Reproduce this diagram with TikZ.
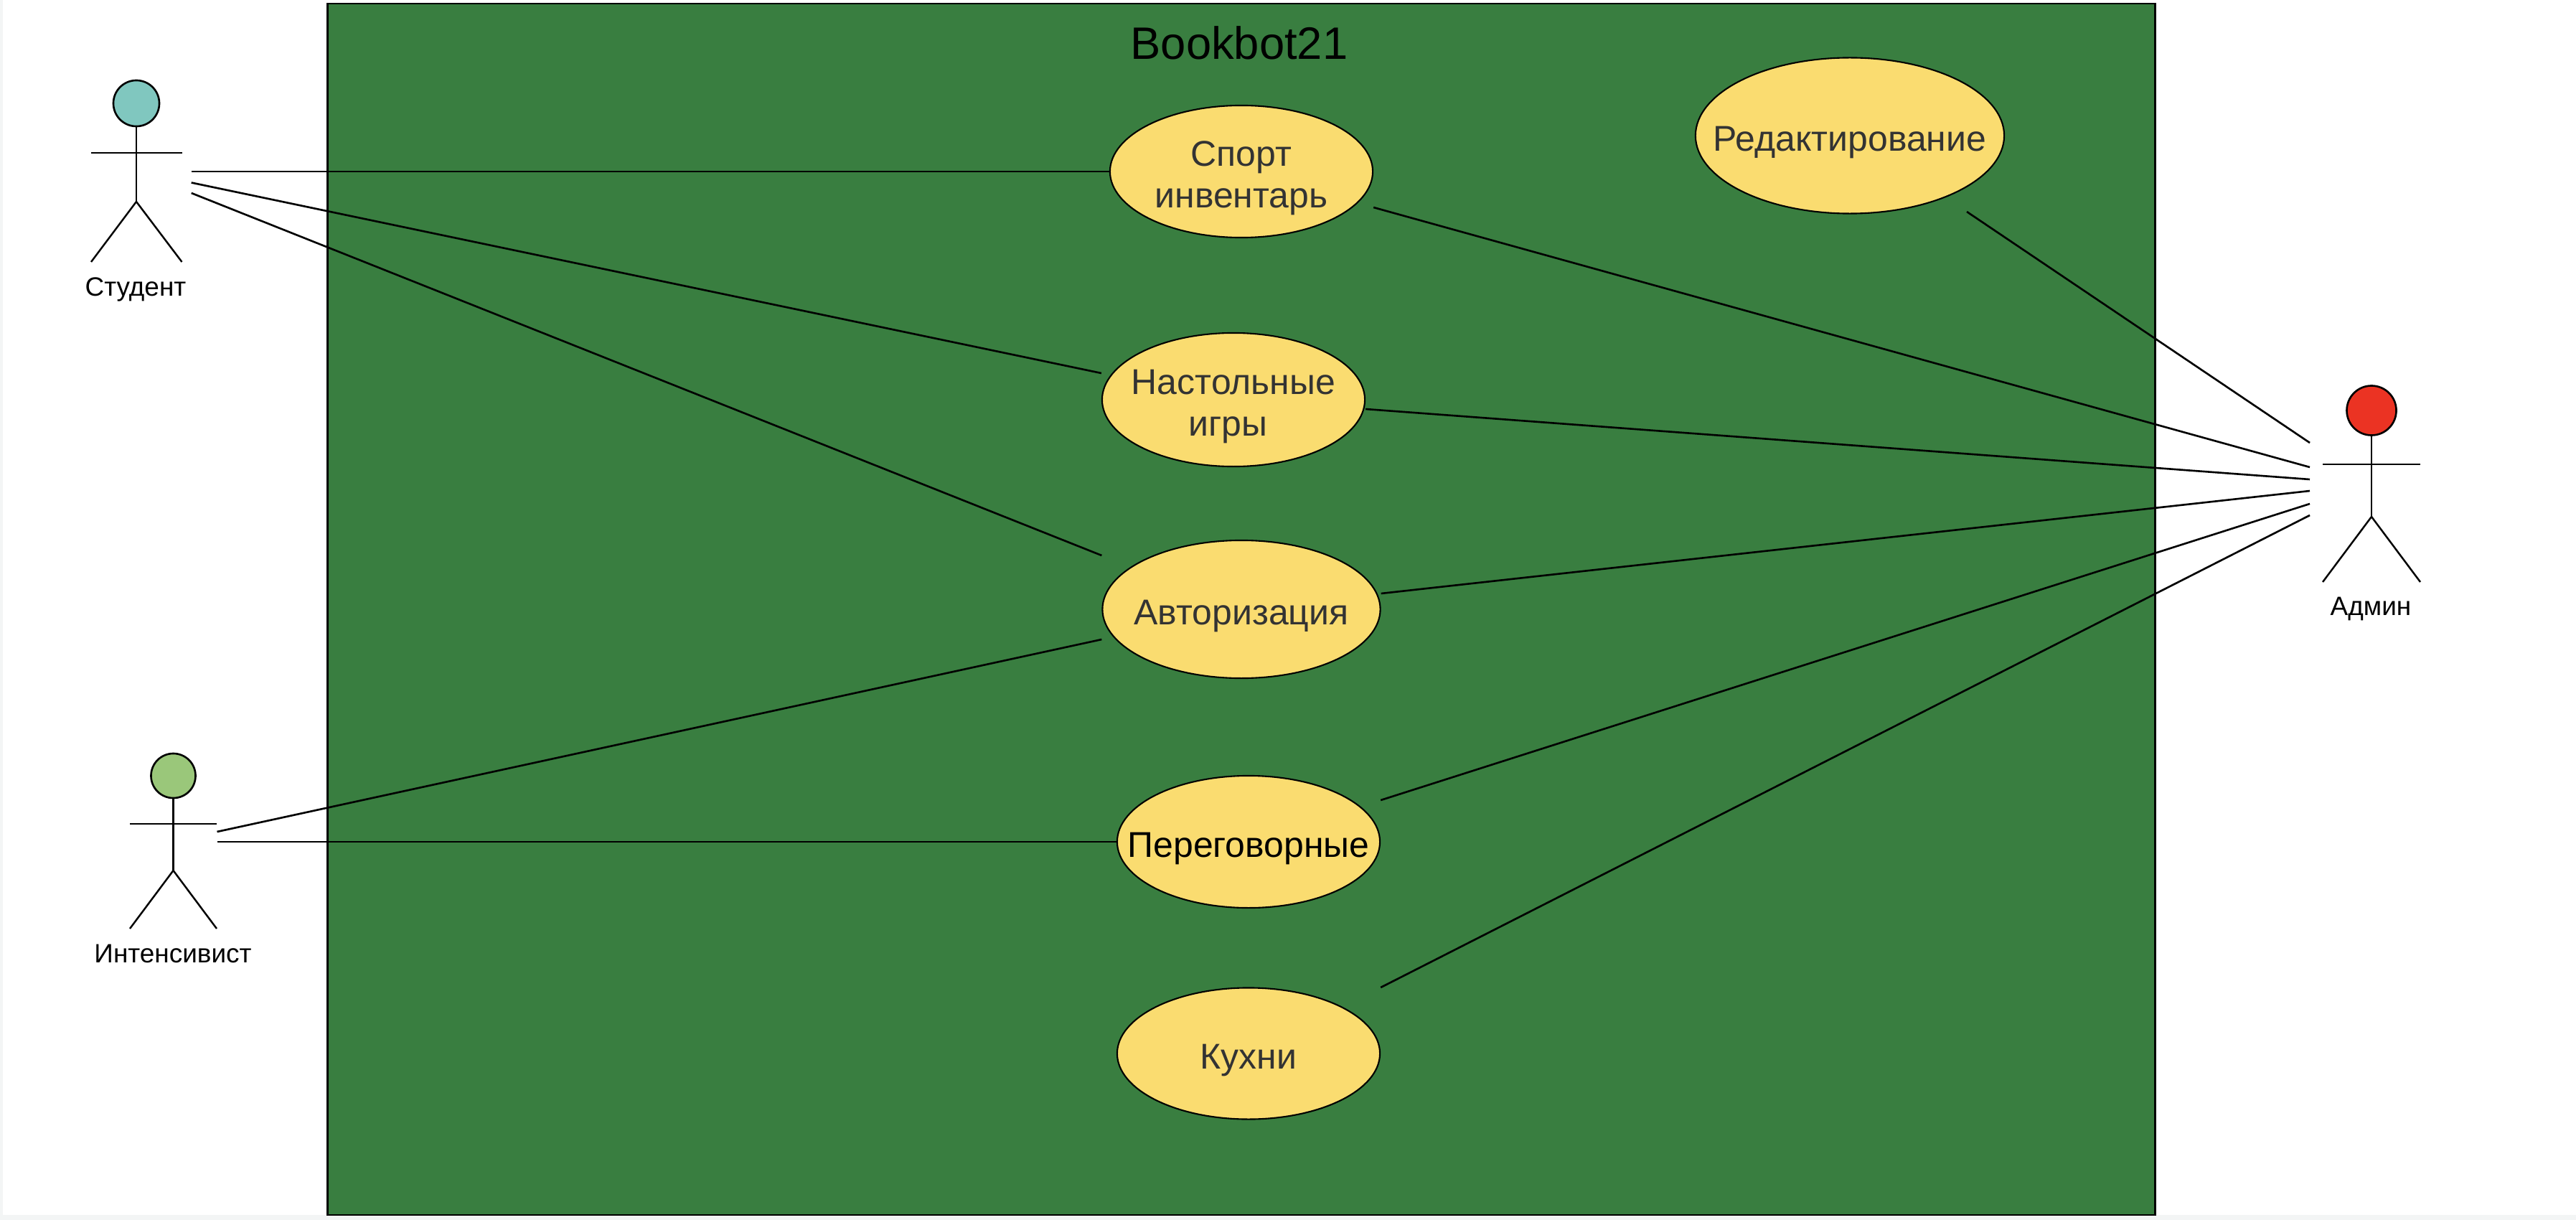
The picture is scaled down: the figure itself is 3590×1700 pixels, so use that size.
\documentclass[tikz,border=0pt]{standalone}
\usepackage{fontspec}
\setmainfont{Liberation Sans}
\usetikzlibrary{shapes.geometric}
\definecolor{boxgreen}{HTML}{397E40}
\definecolor{caseyellow}{HTML}{FADC70}
\definecolor{headteal}{HTML}{80C7BF}
\definecolor{headgreen}{HTML}{9AC77A}
\definecolor{headred}{HTML}{EB3323}
\definecolor{casetext}{HTML}{333333}
\definecolor{edgegray}{HTML}{F3F5F5}
\newcommand{\casestrut}{\rule{0pt}{0.54cm}}
\tikzset{
  usecase/.style={ellipse, draw=black, fill=caseyellow, line width=0.6pt, inner sep=-2cm,
    text=casetext, align=center, font=\fontsize{14.2}{16.4}\selectfont},
  actorhead/.style={circle, draw=black, line width=0.75pt, inner sep=0pt, minimum size=#1},
  actorlabel/.style={inner sep=0pt, font=\fontsize{10.5}{12}\selectfont},
  limb/.style={line width=0.7pt},
  assoc/.style={line width=0.75pt}
}
\begin{document}
\begin{tikzpicture}[x=0.01cm, y=-0.01cm]
\useasboundingbox (0,0) rectangle (3590,1700);
\fill[edgegray] (0,0) rectangle (3590,1700);
\fill[white] (4,0) rectangle (3590,1693);

% System
\node[draw=black, fill=boxgreen, line width=0.75pt, inner sep=0pt,
      minimum width=25.45cm, minimum height=16.87cm] (system) at (1730,849) {};
\node[inner sep=0pt, font=\fontsize{18}{20}\selectfont] (title) at (1727,60) {Bookbot21};

% Use cases
\node[usecase, minimum width=3.66cm, minimum height=1.84cm] (sport) at (1730,239) {\casestrut Спорт\\инвентарь};
\node[usecase, minimum width=3.66cm, minimum height=1.86cm] (nast) at (1719,557) {\casestrut Настольные\\игры\kern0.16cm};
\node[usecase, minimum width=3.87cm, minimum height=1.92cm] (avt) at (1730,849) {\casestrut Авторизация};
\node[usecase, minimum width=3.66cm, minimum height=1.84cm, text=black] (per) at (1740,1173) {\casestrut Переговорные};
\node[usecase, minimum width=3.66cm, minimum height=1.83cm] (kuh) at (1740,1468) {\casestrut Кухни};
\node[usecase, minimum width=4.30cm, minimum height=2.17cm] (red) at (2578,189) {\casestrut Редактирование};

% Student
\node[actorhead=0.64cm, fill=headteal] (stud) at (190,144) {};
\coordinate (studhip) at (190,281);
\coordinate (studarmL) at (127,213);
\coordinate (studarmR) at (253.5,213);
\coordinate (studfootL) at (127,365);
\coordinate (studfootR) at (253.5,365);
\draw[limb] (stud.south) -- (studhip);
\draw[limb] (studarmL) -- (studarmR);
\draw[limb] (studfootL) -- (studhip) -- (studfootR);
\node[actorlabel] (studlabel) at (189,403) {Студент};

% Intensive
\node[actorhead=0.62cm, fill=headgreen] (intens) at (241.5,1081) {};
\coordinate (intenship) at (241.5,1213);
\coordinate (intensarmL) at (181,1148);
\coordinate (intensarmR) at (302,1148);
\coordinate (intensfootL) at (181,1294);
\coordinate (intensfootR) at (302,1294);
\draw[limb] (intens.south) -- (intenship);
\draw[limb] (intensarmL) -- (intensarmR);
\draw[limb] (intensfootL) -- (intenship) -- (intensfootR);
\node[actorlabel] (intenslabel) at (241,1329) {Интенсивист};

% Admin
\node[actorhead=0.69cm, fill=headred] (admin) at (3305,572) {};
\coordinate (adminhip) at (3305,720);
\coordinate (adminarmL) at (3237,647);
\coordinate (adminarmR) at (3373,647);
\coordinate (adminfootL) at (3237,811);
\coordinate (adminfootR) at (3373,811);
\draw[limb] (admin.south) -- (adminhip);
\draw[limb] (adminarmL) -- (adminarmR);
\draw[limb] (adminfootL) -- (adminhip) -- (adminfootR);
\node[actorlabel] (adminlabel) at (3304,848) {Админ};

% Connections
\coordinate (studA) at (266.7,239);
\coordinate (studB) at (266.7,254.5);
\coordinate (studC) at (266.7,269);
\coordinate (intensA) at (302.5,1159);
\coordinate (intensB) at (302.5,1173);
\coordinate (adminA) at (3219,617);
\coordinate (adminB) at (3219,651);
\coordinate (adminC) at (3219,668);
\coordinate (adminD) at (3219,684);
\coordinate (adminE) at (3219,702);
\coordinate (adminF) at (3219,718);

\draw[assoc] (studA) -- (sport.west);
\draw[assoc] (studB) -- ([shift={(0,-37)}]nast.west);
\draw[assoc] (studC) -- ([shift={(0,-75)}]avt.west);

\draw[assoc] (intensA) -- ([shift={(0,42)}]avt.west);
\draw[assoc] (intensB) -- (per.west);

\draw[assoc] (adminA) -- ([shift={(163,106)}]red.center);
\draw[assoc] (adminB) -- ([shift={(0,50)}]sport.east);
\draw[assoc] (adminC) -- ([shift={(0,13)}]nast.east);
\draw[assoc] (adminD) -- ([shift={(0,-22)}]avt.east);
\draw[assoc] (adminE) -- ([shift={(0,-58)}]per.east);
\draw[assoc] (adminF) -- ([shift={(0,-92)}]kuh.east);

\end{tikzpicture}
\end{document}
